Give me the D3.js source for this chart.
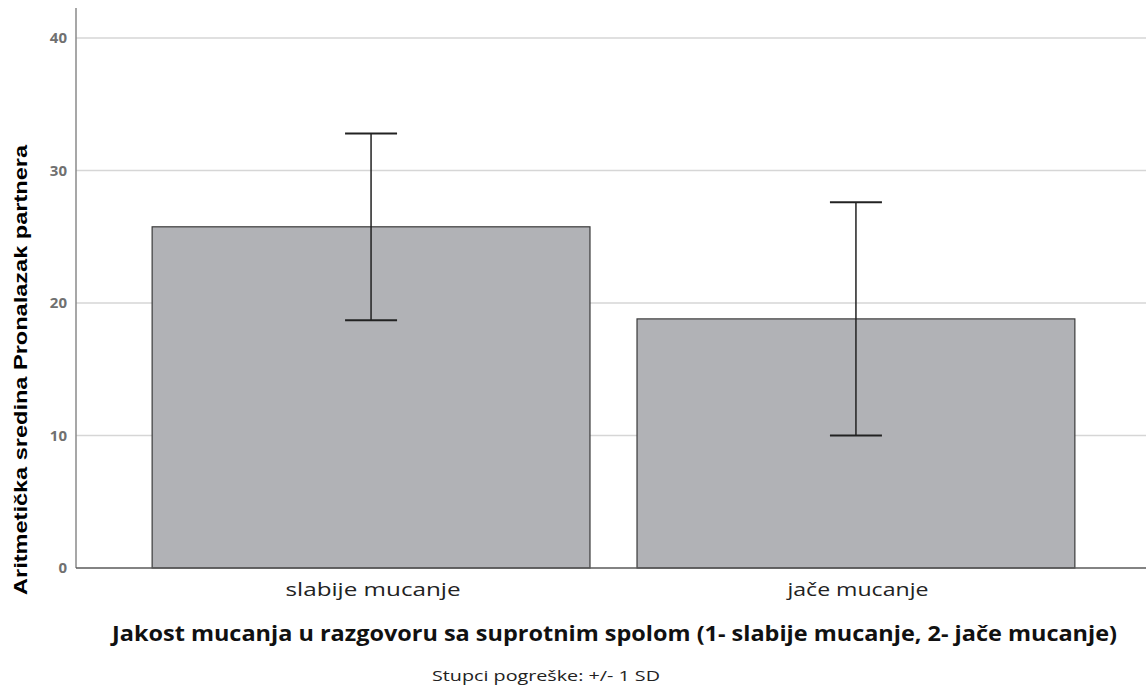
<!DOCTYPE html>
<html><head><meta charset="utf-8">
<script src="https://cdn.jsdelivr.net/npm/d3@7"></script>
<style>body{margin:0;background:#fff}svg{display:block}</style>
</head><body>
<svg id="chart" width="1146" height="689"></svg>
<script>
const categories = ["slabije mucanje", "jače mucanje"];
const means = [25.75, 18.8];
const sds = [7.05, 8.8];
const yTicks = [0, 10, 20, 30, 40];
const catLabelWidths = [175, 141];

const svg = d3.select("#chart");
const left = 76, bottom = 568;
const y = d3.scaleLinear().domain([0, 40]).range([bottom, 38]);
const x = d3.scaleBand().domain(categories).range([left, 1151]).paddingInner(0.097).paddingOuter(0.157);

// grid
svg.append("g").selectAll("line").data(yTicks.filter(d => d > 0)).join("line")
  .attr("x1", left).attr("x2", 1146).attr("y1", d => y(d)).attr("y2", d => y(d))
  .attr("stroke", "#d6d6d6").attr("stroke-width", 1.5);

// y axis
const yAxis = svg.append("g").attr("transform", `translate(${left},0)`)
  .call(d3.axisLeft(y).tickValues(yTicks).tickSize(0).tickPadding(9));
yAxis.select(".domain").remove();
yAxis.selectAll("text").attr("font-family", "Open Sans, sans-serif").attr("font-weight", "bold")
  .attr("font-size", 15).attr("fill", "#707070");
svg.append("line").attr("x1", left).attr("x2", left).attr("y1", 8).attr("y2", bottom)
  .attr("stroke", "#8a8a8a").attr("stroke-width", 1.5);

// bars
svg.append("g").selectAll("rect").data(categories).join("rect")
  .attr("x", d => x(d)).attr("width", x.bandwidth())
  .attr("y", (d, i) => y(means[i])).attr("height", (d, i) => bottom - y(means[i]))
  .attr("fill", "#b1b2b6").attr("stroke", "#3a3a3a").attr("stroke-width", 1.2);

// baseline
svg.append("line").attr("x1", left).attr("x2", 1146).attr("y1", bottom).attr("y2", bottom)
  .attr("stroke", "#5a5a5a").attr("stroke-width", 1.5);

// error bars
const eb = svg.append("g").attr("stroke", "#222").attr("stroke-width", 1.5);
categories.forEach((c, i) => {
  const cx = x(c) + x.bandwidth() / 2;
  const lo = y(means[i] - sds[i]), hi = y(means[i] + sds[i]);
  eb.append("line").attr("x1", cx).attr("x2", cx).attr("y1", hi).attr("y2", lo);
  eb.append("line").attr("x1", cx - 26).attr("x2", cx + 26).attr("y1", hi).attr("y2", hi).attr("stroke-width", 2);
  eb.append("line").attr("x1", cx - 26).attr("x2", cx + 26).attr("y1", lo).attr("y2", lo).attr("stroke-width", 2);
});

// x tick labels
svg.append("g").selectAll("text").data(categories).join("text")
  .attr("x", d => x(d) + x.bandwidth() / 2 + 2).attr("y", 596).attr("text-anchor", "middle")
  .attr("font-family", "Open Sans, sans-serif").attr("font-size", 19).attr("fill", "#222")
  .attr("textLength", (d, i) => catLabelWidths[i]).attr("lengthAdjust", "spacingAndGlyphs")
  .text(d => d);

// titles
svg.append("text").attr("x", 112).attr("y", 641)
  .attr("font-family", "Open Sans, sans-serif").attr("font-weight", "bold").attr("font-size", 21).attr("fill", "#111")
  .attr("textLength", 1005).attr("lengthAdjust", "spacingAndGlyphs")
  .text("Jakost mucanja u razgovoru sa suprotnim spolom (1- slabije mucanje, 2- jače mucanje)");
svg.append("text").attr("x", 432).attr("y", 681)
  .attr("font-family", "Open Sans, sans-serif").attr("font-size", 15).attr("fill", "#222")
  .attr("textLength", 228).attr("lengthAdjust", "spacingAndGlyphs")
  .text("Stupci pogreške: +/- 1 SD");
svg.append("text").attr("transform", "translate(27,370) rotate(-90)").attr("text-anchor", "middle")
  .attr("font-family", "Liberation Sans, Arial, sans-serif").attr("font-weight", "bold").attr("font-size", 19).attr("fill", "#000")
  .attr("textLength", 450).attr("lengthAdjust", "spacingAndGlyphs")
  .text("Aritmetička sredina  Pronalazak partnera");
</script>
</body></html>
